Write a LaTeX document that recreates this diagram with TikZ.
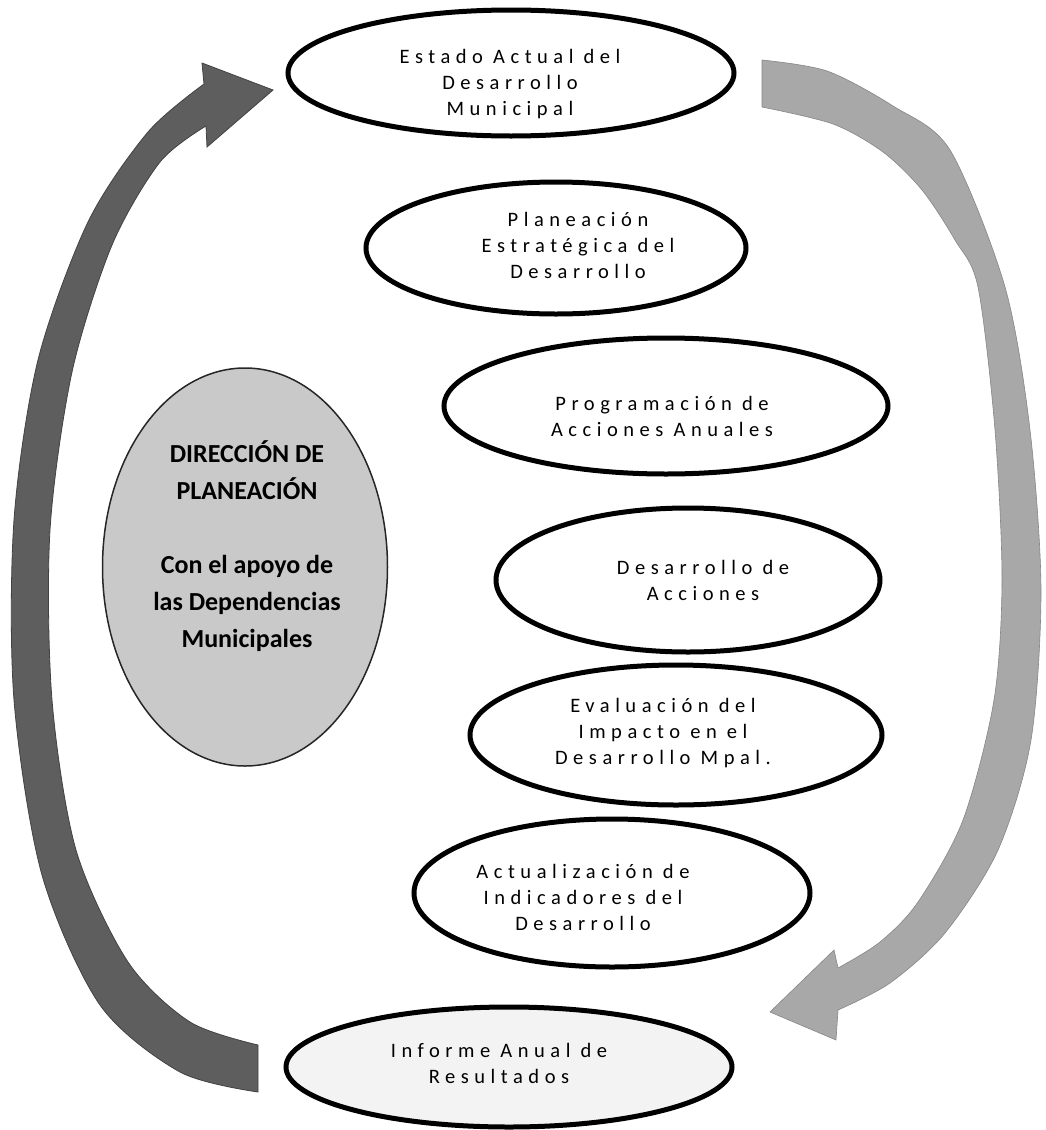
\documentclass[tikz,border=0pt]{standalone}
\usepackage{fontspec}
\usetikzlibrary{shapes.geometric}
\newfontfamily\carl{Carlito}
\newfontfamily\carlsp[LetterSpace=27]{Carlito}
\definecolor{darkarrow}{HTML}{5E5E5E}
\definecolor{lightarrow}{HTML}{A8A8A8}
\definecolor{circfill}{HTML}{C9C9C9}
\definecolor{paleell}{HTML}{F3F3F3}
\tikzset{
  ell/.style={ellipse, draw=black, line width=5pt, fill=white, inner sep=0pt},
  etext/.style={font=\carlsp\fontsize{20.5}{26}\selectfont, align=center, inner sep=0pt},
  ctext/.style={font=\carl\bfseries\fontsize{26}{37}\selectfont, align=center, inner sep=0pt},
}
\begin{document}
\begin{tikzpicture}[x=1pt,y=-1pt]
\useasboundingbox (0,0) rectangle (1045,1130);
% left dark arrow
\fill[darkarrow, draw=darkarrow!70!black, line width=0.8pt]
  plot[smooth] coordinates {(258,1092) (180,1072) (100,1005) (42,875) (14,700) (14,520) (38,360) (88,222) (148,132) (204,84)}
  -- (202,63) -- (273,90) -- (207,147) -- (206,126)
  -- plot[smooth] coordinates {(206,126) (160,162) (112,245) (72,372) (50,530) (52,700) (76,850) (128,962) (190,1022) (258,1045)}
  -- cycle;
% right light arrow
\fill[lightarrow, draw=lightarrow!80!black, line width=0.6pt]
  plot[smooth] coordinates {(762,60) (827,71) (893,106) (950,150) (1005,287) (1030,430) (1041,590) (1031,740) (998,850) (945,933) (890,983) (838,1010)}
  -- (836,1040) -- (770,1012) -- (834,950) -- (838,968)
  -- plot[smooth] coordinates {(838,968) (880,942) (918,902) (963,820) (994,700) (1002,580) (995,430) (978,287) (955,240) (922,190) (883,152) (833,124) (762,107)}
  -- cycle;
% central circle
\node[ellipse, draw=black!85, line width=1.5pt, fill=circfill, minimum width=285pt, minimum height=398pt] (dir) at (245,567) {};
\node[ctext] (dirtext) at (247,546) {DIRECCIÓN DE\\PLANEACIÓN\\[37pt]Con el apoyo de\\las Dependencias\\Municipales};
% ellipses
\node[ell, minimum width=446pt, minimum height=126pt] (e1) at (511,73) {};
\node[etext] (t1) at (510,84) {Estado Actual del\\Desarrollo\\Municipal};
\node[ell, minimum width=380pt, minimum height=132pt] (e2) at (556,248) {};
\node[etext] (t2) at (578,245) {Planeación\\Estratégica del\\Desarrollo};
\node[ell, minimum width=444pt, minimum height=136pt] (e3) at (666,406) {};
\node[etext] (t3) at (662,416) {Programación de\\Acciones Anuales};
\node[ell, minimum width=384pt, minimum height=144pt] (e4) at (688,580) {};
\node[etext] (t4) at (703,580) {Desarrollo de\\Acciones};
\node[ell, minimum width=412pt, minimum height=140pt] (e5) at (676,735) {};
\node[etext] (t5) at (663,733) {Evaluación del\\Impacto en el\\Desarrollo Mpal.};
\node[ell, minimum width=396pt, minimum height=148pt] (e6) at (612,893) {};
\node[etext] (t6) at (583,897) {Actualización de\\Indicadores del\\Desarrollo};
\node[ell, fill=paleell, minimum width=446pt, minimum height=120pt] (e7) at (509,1067) {};
\node[etext] (t7) at (499,1063) {Informe Anual de\\Resultados};
\end{tikzpicture}
\end{document}
